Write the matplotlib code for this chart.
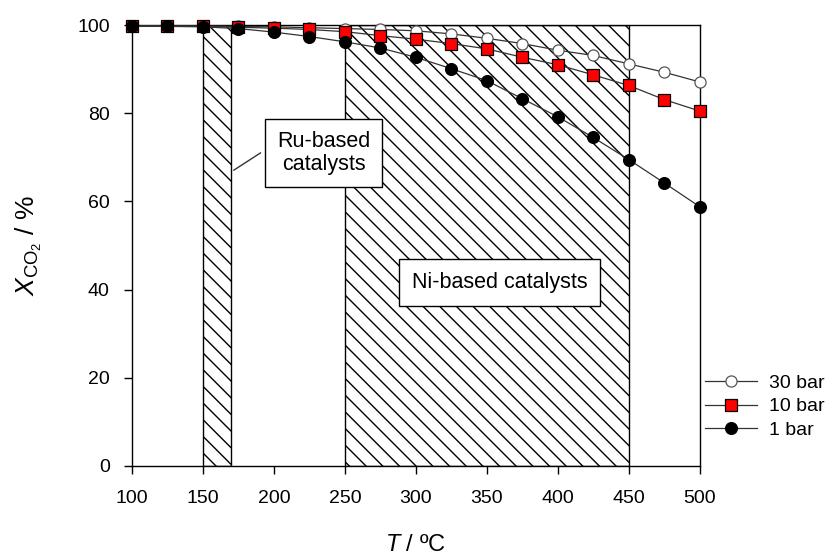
import matplotlib
matplotlib.use("Agg")
import matplotlib.pyplot as plt
from matplotlib.patches import Rectangle

plt.rcParams['font.family'] = ['Liberation Sans', 'DejaVu Sans']
plt.rcParams['mathtext.fontset'] = 'custom'
plt.rcParams['mathtext.rm'] = 'Liberation Sans'
plt.rcParams['mathtext.it'] = 'Liberation Sans:italic'
plt.rcParams['hatch.linewidth'] = 1.0
plt.rcParams['hatch.color'] = '#333333'

T = [100, 125, 150, 175, 200, 225, 250, 275, 300, 325, 350, 375, 400, 425, 450, 475, 500]
x_30bar = [99.8, 99.8, 99.8, 99.7, 99.6, 99.4, 99.2, 99.0, 98.7, 98.0, 97.0, 95.8, 94.3, 93.1, 91.2, 89.3, 87.1]
x_10bar = [99.8, 99.8, 99.7, 99.5, 99.3, 99.0, 98.5, 97.6, 96.8, 95.8, 94.6, 92.7, 91.0, 88.7, 86.3, 83.1, 80.5]
x_1bar = [99.7, 99.7, 99.6, 99.2, 98.4, 97.4, 96.2, 94.8, 92.7, 90.1, 87.4, 83.3, 79.2, 74.5, 69.5, 64.2, 58.8]

ru_range = (150, 170)
ni_range = (250, 450)

fig = plt.figure(figsize=(8.38, 5.57), dpi=100)
ax = fig.add_axes([0.1575, 0.1634, 0.835 - 0.1575, 0.955 - 0.1634])

for lo, hi in (ru_range, ni_range):
    ax.add_patch(Rectangle((lo, 0), hi - lo, 100, facecolor='white',
                           edgecolor='black', hatch='\\\\', linewidth=1.0, zorder=1))

l30, = ax.plot(T, x_30bar, '-', color='#333333', lw=0.9, marker='o', ms=8,
               mfc='white', mec='#555555', mew=0.9, zorder=3, clip_on=False)
l10, = ax.plot(T, x_10bar, '-', color='#333333', lw=0.9, marker='s', ms=9,
               mfc='red', mec='black', mew=0.9, zorder=4, clip_on=False)
l1, = ax.plot(T, x_1bar, '-', color='#333333', lw=0.9, marker='o', ms=8.5,
              mfc='black', mec='black', mew=0.9, zorder=5, clip_on=False)

ax.set_xlim(100, 500)
ax.set_ylim(0, 100)
ax.set_xticks(range(100, 501, 50))
ax.set_yticks(range(0, 101, 20))
ax.tick_params(axis='both', direction='out', length=6, width=1, labelsize=14,
               top=False, right=False)
ax.tick_params(axis='x', pad=11)
ax.tick_params(axis='y', pad=10)
for s in ax.spines.values():
    s.set_linewidth(1.0)

ax.set_xlabel(r'$\mathit{T}$ / ºC', fontsize=17, labelpad=20)
ax.set_ylabel(r'$\mathit{X}_{\mathrm{CO_2}}$ / %', fontsize=19, labelpad=24)

ax.text(359, 41.6, 'Ni-based catalysts', fontsize=15.5, ha='center', va='center',
        zorder=6, bbox=dict(boxstyle='square,pad=0.6', fc='white', ec='black', lw=1))
ax.text(235, 71, 'Ru-based\ncatalysts', fontsize=15.5, ha='center', va='center',
        linespacing=1.1,
        zorder=6, bbox=dict(boxstyle='square,pad=0.55', fc='white', ec='black', lw=1))
ax.plot([171.8, 190.5], [67.1, 71], color='#333333', lw=1, zorder=6)

fig.legend([l30, l10, l1], ['30 bar', '10 bar', '1 bar'], loc='center left',
           bbox_to_anchor=(0.841, 0.27), frameon=False, fontsize=14,
           handlelength=2.7, markerfirst=True, labelspacing=0.3, handletextpad=0.6,
           borderaxespad=0, borderpad=0)

fig.savefig('out.png', dpi=100)
